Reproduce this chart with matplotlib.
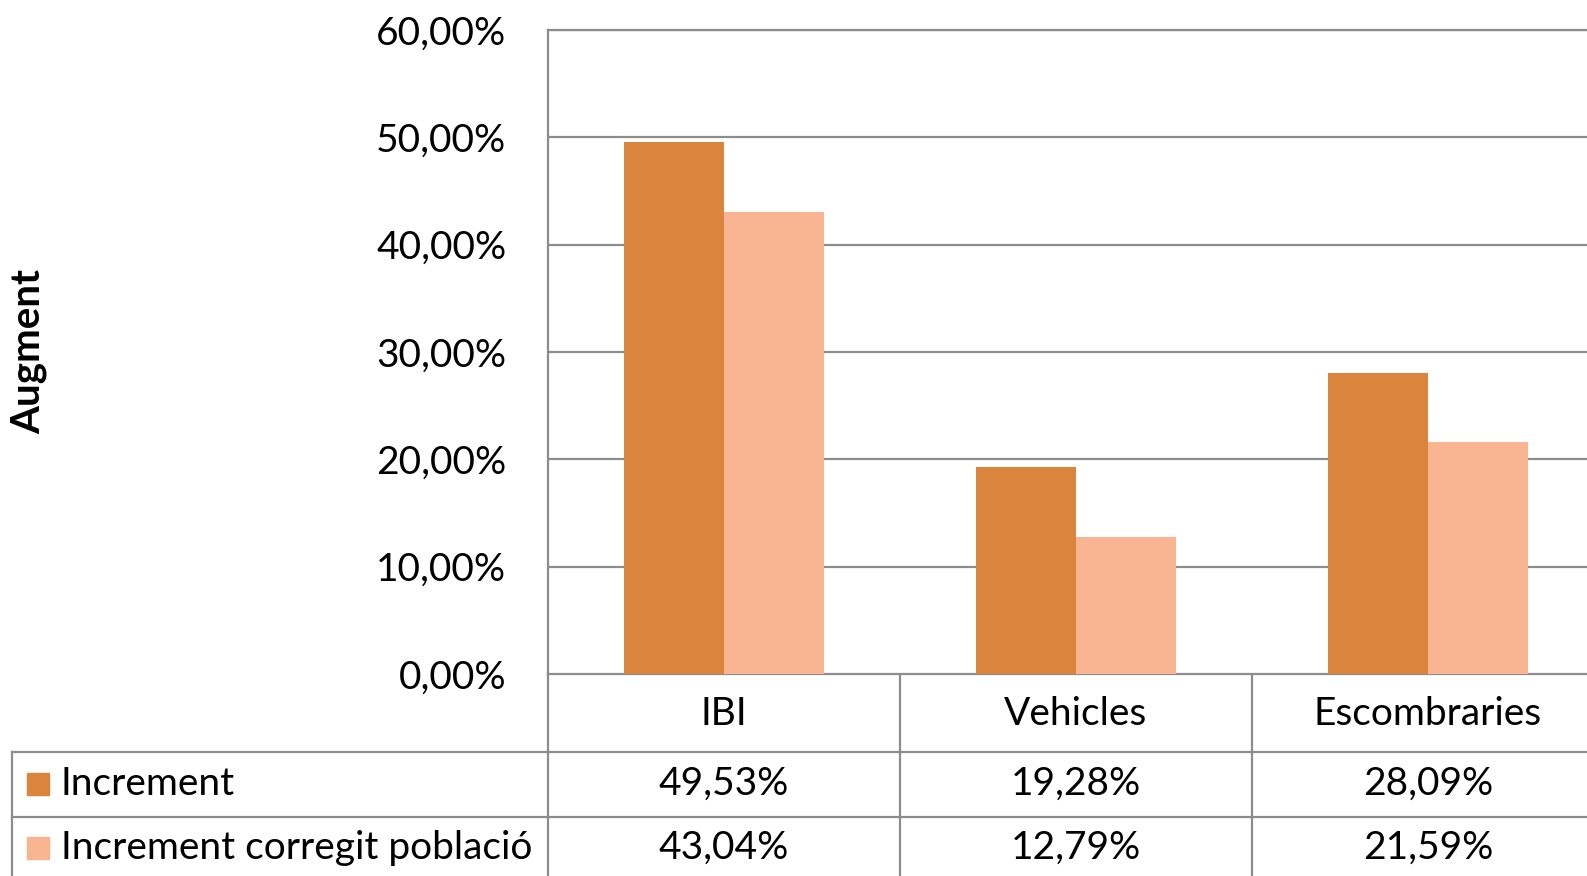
import matplotlib.pyplot as plt
from matplotlib.lines import Line2D
from matplotlib.patches import Rectangle
import matplotlib.transforms as mtransforms

# data
categories = ["IBI", "Vehicles", "Escombraries"]
series_names = ["Increment", "Increment corregit població"]
increment = [49.53, 19.28, 28.09]
increment_corr = [43.04, 12.79, 21.59]
yticks = [0, 10, 20, 30, 40, 50, 60]

colors = ["#DB843D", "#F9B592"]
grid_col = "#8C8C8C"
plt.rcParams["font.family"] = ["Lato", "DejaVu Sans"]
fs = 28

W, H = 1587, 876
fig = plt.figure(figsize=(W / 100, H / 100), dpi=100)

# pixel layout (the chart is cut off on the right, like the reference)
left, right, top, zero = 548, 1604, 30, 674
ax = fig.add_axes([left / W, 1 - zero / H, (right - left) / W, (zero - top) / H])

# overlay in pixel coords for the data table
ov = fig.add_axes([0, 0, 1, 1], zorder=-1)
ov.set_xlim(0, W)
ov.set_ylim(H, 0)
ov.axis("off")

x = range(len(categories))
bw = 0.284
ax.bar([i - bw / 2 for i in x], increment, bw, color=colors[0], zorder=3)
ax.bar([i + bw / 2 for i in x], increment_corr, bw, color=colors[1], zorder=3)

ax.set_xlim(-0.5, len(categories) - 0.5)
ax.set_ylim(0, 60)
ax.set_yticks(yticks)
ax.set_yticklabels([f"{v},00%" for v in yticks], fontsize=fs)
ax.tick_params(axis="y", length=0, pad=30)
ax.set_xticks([])
ax.yaxis.grid(True, color=grid_col, linewidth=1.6, zorder=0)
for s in ["right", "bottom"]:
    ax.spines[s].set_visible(False)
for s in ["left", "top"]:
    ax.spines[s].set_color(grid_col)
    ax.spines[s].set_linewidth(1.6)

fig.text(29 / W, 1 - 352 / H, "Augment", rotation=90, fontsize=29,
         fontweight="bold", ha="center", va="center")

# data table
tr = mtransforms.blended_transform_factory(ax.transData, ov.transData)
lw = 1.6
row1, row2, bottom = 752, 817, 880
ov.add_line(Line2D([12, W], [row1, row1], color=grid_col, lw=lw))
ov.add_line(Line2D([12, W], [row2, row2], color=grid_col, lw=lw))
ov.add_line(Line2D([12, 12], [row1, bottom], color=grid_col, lw=lw))
ov.add_line(Line2D([left, left], [zero, bottom], color=grid_col, lw=lw))
ov.add_line(Line2D([left, W], [zero, zero], color=grid_col, lw=lw))
for i in range(1, len(categories)):
    ov.add_line(Line2D([i - 0.5, i - 0.5], [zero, bottom], color=grid_col,
                       lw=lw, transform=tr))

for i, c in enumerate(categories):
    ov.text(i, 714, c, transform=tr, ha="center", va="center", fontsize=fs)
    ov.text(i, 784, f"{increment[i]:.2f}%".replace(".", ","), transform=tr,
            ha="center", va="center", fontsize=fs)
    ov.text(i, 848, f"{increment_corr[i]:.2f}%".replace(".", ","), transform=tr,
            ha="center", va="center", fontsize=fs)

for k, (name, yc) in enumerate(zip(series_names, [784, 848])):
    ov.add_patch(Rectangle((27, yc - 11), 22, 22, color=colors[k]))
    ov.text(61, yc, name, ha="left", va="center", fontsize=fs)

fig.savefig("out.png", dpi=100)
